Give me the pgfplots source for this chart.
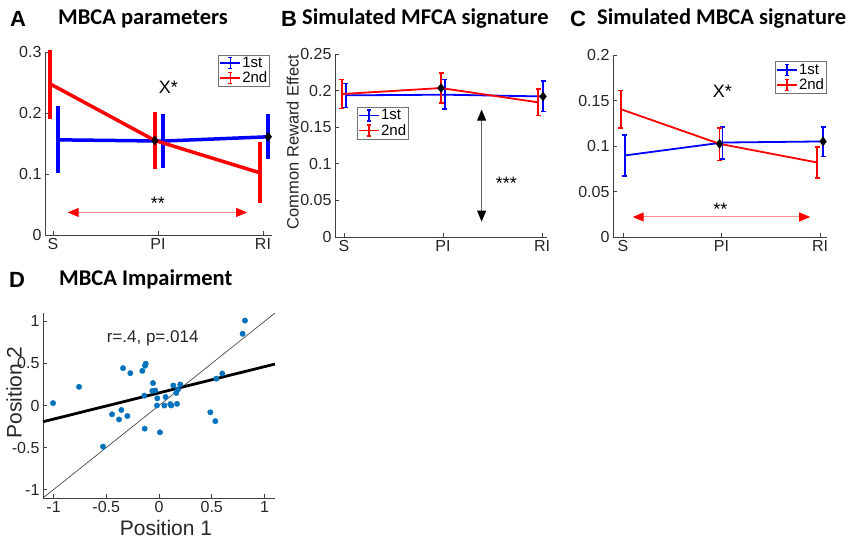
\documentclass[border=0pt]{standalone}
\usepackage{pgfplots}
\pgfplotsset{compat=1.18}
\usepackage{fontspec}
\setmainfont{Liberation Sans}
\newfontfamily\titlefont{Carlito}
\usetikzlibrary{arrows.meta}
\definecolor{mblue}{rgb}{0,0,1}
\definecolor{mred}{rgb}{1,0,0}
\definecolor{pinkline}{rgb}{1,0.55,0.55}
\definecolor{sdot}{rgb}{0,0.447,0.741}
\definecolor{axgray}{rgb}{0.25,0.25,0.25}

\pgfplotstableread{
x y ep em
1.05 0.156 0.053 0.052
2.05 0.154 0.041 0.041
3.05 0.161 0.034 0.034
}\Ablue
\pgfplotstableread{
x y ep em
0.97 0.248 0.052 0.055
1.97 0.155 0.044 0.044
2.97 0.102 0.047 0.046
}\Ared
\pgfplotstableread{
x y ep em
1.02 0.1935 0.0160 0.0165
2.02 0.1944 0.0206 0.0194
3.01 0.1920 0.0207 0.0203
}\Bblue
\pgfplotstableread{
x y ep em
0.98 0.1953 0.0197 0.0195
1.98 0.2035 0.0205 0.0205
2.96 0.1840 0.0180 0.0182
}\Bred
\pgfplotstableread{
x y ep em
1.02 0.0896 0.0227 0.0223
2.01 0.1038 0.0172 0.0182
3.03 0.1050 0.0160 0.0165
}\Cblue
\pgfplotstableread{
x y ep em
0.98 0.1404 0.0206 0.0204
1.98 0.1024 0.0172 0.0183
2.97 0.0819 0.0168 0.0172
}\Cred
\pgfplotstableread{
x y
-1.005 0.028
-0.758 0.222
-0.531 -0.489
-0.445 -0.105
-0.379 -0.166
-0.357 -0.053
-0.300 -0.125
-0.341 0.444
-0.272 0.384
-0.158 0.412
-0.133 0.473
-0.126 0.497
-0.136 -0.275
-0.139 0.117
-0.057 0.267
-0.063 0.174
-0.035 0.178
-0.016 0.085
-0.019 0.000
0.009 -0.319
0.051 0.000
0.063 0.101
0.107 0.016
0.117 0.000
0.136 0.238
0.164 0.149
0.171 0.020
0.180 0.190
0.202 0.250
0.487 -0.081
0.534 -0.186
0.543 0.319
0.600 0.380
0.793 0.853
0.815 1.010
}\Dpts

\newcommand{\tickfont}{\fontsize{16}{18}\selectfont}
\newcommand{\legfont}{\fontsize{15}{16}\selectfont}
\newcommand{\annfont}{\fontsize{18}{20}\selectfont}
\newcommand{\labfont}{\fontsize{21}{23}\selectfont}
\pgfplotsset{
  panel/.style={
    scale only axis,
    axis lines*=left,
    anchor=south west,
    tick align=inside,
    major tick length=4pt,
    axis line style={axgray, line width=0.7pt},
    tick style={axgray, line width=0.7pt},
    tick label style={font=\tickfont, text=black!85},
    /pgf/number format/assume math mode=true,
    clip=false,
    legend cell align=left,
    error bars/y dir=both,
    error bars/y explicit,
  },
  catx/.style={xtick={1,2,3}, xticklabels={S,PI,RI}},
  ebleg/.style={
    legend image code/.code={
      \draw[##1,line width=#1] (0pt,0pt) -- (20pt,0pt);
      \draw[##1,line width=#1] (10pt,-5.5pt) -- (10pt,5.5pt);
      \draw[##1,line width=#1] (8pt,5.5pt) -- (12pt,5.5pt);
      \draw[##1,line width=#1] (8pt,-5.5pt) -- (12pt,-5.5pt);
    },
  },
  legbox/.style={
    font=\legfont, draw=black!55, line width=0.7pt, inner sep=1pt,
    row sep=0.5pt, nodes={inner sep=1.2pt}
  },
  sigarrow/.style={
    {Triangle[length=11pt,width=9pt,fill=#1,color=#1]}-{Triangle[length=11pt,width=9pt,fill=#1,color=#1]}
  },
}

\begin{document}
\begin{tikzpicture}
\useasboundingbox (0pt,0pt) rectangle (854pt,538pt);

% ---------------- Panel A ----------------
\begin{axis}[panel, catx, at={(45pt,303pt)}, width=227pt, height=183pt,
  xmin=0.924, xmax=3.086, ymin=0, ymax=0.3,
  ytick={0,0.1,0.2,0.3}, yticklabels={0,0.1,0.2,0.3},
  ebleg=1.5pt,
  legend style={legbox, at={(0.763,0.985)}, anchor=north west}]
\addplot[mblue, line width=3.5pt, forget plot,
  error bars/error bar style={mblue, line width=3.5pt},
  error bars/error mark options={rotate=90, mblue, mark size=2pt, line width=3.5pt}]
  table[x=x, y=y, y error plus=ep, y error minus=em] {\Ablue};
\addplot[mred, line width=3.5pt, forget plot,
  error bars/error bar style={mred, line width=3.5pt},
  error bars/error mark options={rotate=90, mred, mark size=2pt, line width=3.5pt}]
  table[x=x, y=y, y error plus=ep, y error minus=em] {\Ared};
\addplot[only marks, mark=diamond*, mark size=4.5pt, black, forget plot]
  coordinates {(1.97,0.155) (3.05,0.161)};
\addplot[draw=pinkline, line width=1pt, dash pattern=on 1.2pt off 0.8pt, forget plot, sigarrow=mred]
  coordinates {(1.14,0.037) (2.85,0.037)};
\node[font=\annfont] at (axis cs:2.0,0.052) {**};
\node[font=\annfont] at (axis cs:2.1,0.242) {X*};
\addlegendimage{mblue}\addlegendentry{1st}
\addlegendimage{mred}\addlegendentry{2nd}
\end{axis}

% ---------------- Panel B ----------------
\begin{axis}[panel, catx, at={(335pt,301pt)}, width=212pt, height=183pt,
  xmin=0.91, xmax=3.05, ymin=0, ymax=0.25,
  ytick={0,0.05,0.1,0.15,0.2,0.25}, yticklabels={0,0.05,0.1,0.15,0.2,0.25},
  ylabel={Common Reward Effect},
  ylabel style={font=\fontsize{16.5}{17}\selectfont, text=black!85, at={(rel axis cs:-0.20,0.52)}, anchor=center},
  ebleg=1.5pt,
  legend style={legbox, at={(0.104,0.71)}, anchor=north west}]
\addplot[mblue, line width=1.8pt, forget plot,
  error bars/error bar style={mblue, line width=1.6pt},
  error bars/error mark options={rotate=90, mblue, mark size=2.5pt, line width=1.6pt}]
  table[x=x, y=y, y error plus=ep, y error minus=em] {\Bblue};
\addplot[mred, line width=1.8pt, forget plot,
  error bars/error bar style={mred, line width=1.6pt},
  error bars/error mark options={rotate=90, mred, mark size=2.5pt, line width=1.6pt}]
  table[x=x, y=y, y error plus=ep, y error minus=em] {\Bred};
\addplot[only marks, mark=diamond*, mark size=4.5pt, black, forget plot]
  coordinates {(1.98,0.2035) (3.01,0.192)};
\addplot[draw=black!60, line width=0.9pt, dash pattern=on 1.2pt off 0.8pt, forget plot, sigarrow=black]
  coordinates {(2.39,0.174) (2.39,0.021)};
\node[font=\annfont] at (axis cs:2.64,0.074) {***};
\addlegendimage{mblue}\addlegendentry{1st}
\addlegendimage{mred}\addlegendentry{2nd}
\end{axis}

% ---------------- Panel C ----------------
\begin{axis}[panel, catx, at={(613pt,301pt)}, width=214pt, height=182pt,
  xmin=0.9, xmax=3.07, ymin=0, ymax=0.2,
  ytick={0,0.05,0.1,0.15,0.2}, yticklabels={0,0.05,0.1,0.15,0.2},
  ebleg=1.5pt,
  legend style={legbox, at={(0.757,0.965)}, anchor=north west}]
\addplot[mblue, line width=1.8pt, forget plot,
  error bars/error bar style={mblue, line width=1.6pt},
  error bars/error mark options={rotate=90, mblue, mark size=2.5pt, line width=1.6pt}]
  table[x=x, y=y, y error plus=ep, y error minus=em] {\Cblue};
\addplot[mred, line width=1.8pt, forget plot,
  error bars/error bar style={mred, line width=1.6pt},
  error bars/error mark options={rotate=90, mred, mark size=2.5pt, line width=1.6pt}]
  table[x=x, y=y, y error plus=ep, y error minus=em] {\Cred};
\addplot[only marks, mark=diamond*, mark size=4.5pt, black, forget plot]
  coordinates {(1.98,0.1024) (3.03,0.105)};
\addplot[draw=pinkline, line width=1pt, dash pattern=on 1.2pt off 0.8pt, forget plot, sigarrow=mred]
  coordinates {(1.1,0.022) (2.9,0.022)};
\node[font=\annfont] at (axis cs:1.99,0.030) {**};
\node[font=\annfont] at (axis cs:2.01,0.160) {X*};
\addlegendimage{mblue}\addlegendentry{1st}
\addlegendimage{mred}\addlegendentry{2nd}
\end{axis}

% ---------------- Panel D ----------------
\begin{axis}[panel, at={(43pt,40pt)}, width=232pt, height=185pt,
  xmin=-1.1, xmax=1.1, ymin=-1.1, ymax=1.1,
  xtick={-1,-0.5,0,0.5,1}, xticklabels={-1,-0.5,0,0.5,1},
  ytick={-1,-0.5,0,0.5,1}, yticklabels={-1,-0.5,0,0.5,1},
  xlabel={Position 1}, ylabel={Position 2},
  xlabel style={font=\labfont, text=black!85, at={(rel axis cs:0.53,-0.10)}, anchor=north},
  ylabel style={font=\labfont, text=black!85, at={(rel axis cs:-0.125,0.57)}, anchor=center}]
\addplot[black!80, line width=0.6pt] coordinates {(-1.1,-1.1) (1.1,1.1)};
\addplot[black, line width=2.8pt] coordinates {(-1.1,-0.193) (1.1,0.493)};
\addplot[only marks, mark=*, mark size=2.7pt, sdot, mark options={draw=sdot, fill=sdot}]
  table[x=x, y=y] {\Dpts};
\node[font=\fontsize{17}{19}\selectfont, text=black!85] at (axis cs:-0.06,0.8) {r=.4, p=.014};
\end{axis}

% ---------------- Titles ----------------
\node[anchor=base west, inner sep=0pt, font=\fontsize{22}{22}\selectfont\bfseries] at (10pt,511pt) {A};
\node[anchor=base west, inner sep=0pt, font=\titlefont\fontsize{22.5}{24}\selectfont\bfseries] at (58pt,513pt) {MBCA parameters};
\node[anchor=base west, inner sep=0pt, font=\fontsize{22}{22}\selectfont\bfseries] at (281pt,511pt) {B};
\node[anchor=base west, inner sep=0pt, font=\titlefont\fontsize{22.5}{24}\selectfont\bfseries] at (302pt,513pt) {Simulated MFCA signature};
\node[anchor=base west, inner sep=0pt, font=\fontsize{22}{22}\selectfont\bfseries] at (570pt,511pt) {C};
\node[anchor=base west, inner sep=0pt, font=\titlefont\fontsize{22.5}{24}\selectfont\bfseries] at (597pt,513pt) {Simulated MBCA signature};
\node[anchor=base west, inner sep=0pt, font=\fontsize{22}{22}\selectfont\bfseries] at (9pt,250pt) {D};
\node[anchor=base west, inner sep=0pt, font=\titlefont\fontsize{22.5}{24}\selectfont\bfseries] at (59pt,252pt) {MBCA Impairment};
\end{tikzpicture}
\end{document}
